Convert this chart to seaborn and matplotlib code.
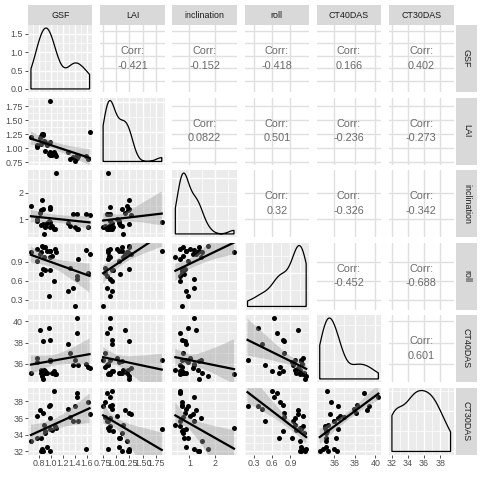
import numpy as np
import pandas as pd
import matplotlib
matplotlib.use("Agg")
import matplotlib.pyplot as plt
import seaborn as sns
from matplotlib.ticker import FixedLocator, AutoMinorLocator

variables = ["GSF", "LAI", "inclination", "roll", "CT40DAS", "CT30DAS"]

gsf = [0.665, 0.763, 0.774, 0.817, 0.828, 0.839, 0.855, 0.871, 0.871, 0.882, 0.898,
       0.909, 0.936, 0.962, 0.979, 0.979, 0.990, 0.990, 1.017, 1.054, 1.071, 1.087,
       1.287, 1.325, 1.379, 1.411, 1.433, 1.433, 1.449, 1.595, 1.627, 1.649]
lai = [1.205, 1.011, 1.058, 1.175, 1.070, 1.220, 1.245, 1.245, 1.234, 1.128, 1.117,
       0.940, 1.058, 0.894, 1.850, 0.883, 0.929, 1.117, 0.871, 0.929, 0.894, 0.854,
       0.929, 0.795, 0.836, 0.760, 0.883, 0.824, 0.854, 0.854, 0.795, 1.280]
inclination = [1.49, 1.02, 0.94, 1.24, 0.78, 1.34, 1.73, 0.82, 1.37, 0.45, 0.73,
               0.70, 0.85, 0.94, 0.88, 1.46, 0.70, 1.37, 0.76, 0.63, 0.63, 2.73,
               0.85, 0.76, 1.18, 0.70, 1.18, 0.63, 0.63, 1.18, 0.70, 1.15]
roll = [1.05, 1.10, 0.92, 1.02, 0.71, 1.05, 1.16, 0.79, 1.14, 0.97, 1.13,
        0.77, 1.07, 0.36, 1.08, 0.97, 0.77, 1.07, 0.99, 0.60, 1.10, 1.05,
        0.43, 0.80, 0.48, 0.19, 0.62, 0.68, 0.94, 1.09, 0.72, 1.02]
ct40 = [35.2, 36.55, 36.15, 39.2, 35.2, 35.4, 34.9, 38.15, 34.6, 35.4, 35.2,
        35.3, 35.2, 39.4, 36.4, 36.4, 38.2, 36.25, 35.2, 35.3, 35.1, 35.1,
        37.9, 37.0, 35.94, 36.4, 40.3, 38.9, 35.94, 36.0, 35.7, 35.6]
ct30 = [33.2, 36.2, 33.6, 37.0, 33.6, 32.1, 32.3, 36.6, 32.0, 35.2, 34.2,
        34.4, 32.5, 37.5, 34.7, 36.0, 37.6, 32.1, 34.6, 39.3, 35.0, 34.8,
        37.1, 36.1, 35.6, 37.5, 38.5, 39.0, 35.6, 32.3, 37.9, 36.5]

corr_labels = ["-0.421", "-0.152", "-0.418", "0.166", "0.402",
               "0.0822", "0.501", "-0.236", "-0.273",
               "0.32", "-0.326", "-0.342",
               "-0.452", "-0.688",
               "0.601"]

ticks = {
    "GSF": [0.8, 1.0, 1.2, 1.4, 1.6],
    "LAI": [0.75, 1.00, 1.25, 1.50, 1.75],
    "inclination": [1, 2],
    "roll": [0.3, 0.6, 0.9],
    "CT40DAS": [36, 38, 40],
    "CT30DAS": [32, 34, 36, 38],
}
tick_labels = {
    "GSF": ["0.8", "1.0", "1.2", "1.4", "1.6"],
    "LAI": ["0.75", "1.00", "1.25", "1.50", "1.75"],
    "inclination": ["1", "2"],
    "roll": ["0.3", "0.6", "0.9"],
    "CT40DAS": ["36", "38", "40"],
    "CT30DAS": ["32", "34", "36", "38"],
}
density_ticks = [0.0, 0.5, 1.0, 1.5]
density_labels = ["0.0", "0.5", "1.0", "1.5"]

df = pd.DataFrame({"GSF": gsf, "LAI": lai, "inclination": inclination,
                   "roll": roll, "CT40DAS": ct40, "CT30DAS": ct30})

plt.rcParams["font.family"] = ["Liberation Sans", "DejaVu Sans"]

W = H = 480
fig = plt.figure(figsize=(4.8, 4.8), dpi=100)

col_left = [28 + i * 72.2 for i in range(6)]
row_top = [25 + j * 72.5 for j in range(6)]
pw, ph = 64.5, 67

TICK_C = "#4D4D4D"
FS = 6.4


def limits(v):
    lo, hi = df[v].min(), df[v].max()
    pad = (hi - lo) * 0.05
    return lo - pad, hi + pad


def panel(i, j):
    x0 = col_left[j]
    y0 = row_top[i]
    return fig.add_axes([x0 / W, 1 - (y0 + ph) / H, pw / W, ph / H])


ci = 0
for i, vy in enumerate(variables):
    for j, vx in enumerate(variables):
        ax = panel(i, j)
        for s in ax.spines.values():
            s.set_visible(False)
        ax.set_xlim(*limits(vx))
        ax.xaxis.set_major_locator(FixedLocator(ticks[vx]))
        ax.xaxis.set_minor_locator(AutoMinorLocator(2))

        if i < j:
            # upper triangle: correlation text
            ax.set_ylim(*limits(vy))
            ax.yaxis.set_major_locator(FixedLocator(ticks[vy]))
            ax.set_facecolor("white")
            ax.grid(True, which="major", color="#E0E0E0", lw=1.0)
            ax.set_axisbelow(True)
            ax.text(0.5, 0.5, "Corr:\n" + corr_labels[ci], transform=ax.transAxes,
                    ha="center", va="center", fontsize=7.8, color="#6A6A6A",
                    linespacing=1.55)
            ci += 1
        elif i == j:
            ax.set_facecolor("#EBEBEB")
            sns.kdeplot(data=df, x=vx, ax=ax, cut=0, fill=True, color="black",
                        bw_adjust=0.9)
            poly = ax.collections[-1]
            poly.set_facecolor("none")
            poly.set_edgecolor("black")
            poly.set_linewidth(0.9)
            poly.set_alpha(1)
            ymax = poly.get_paths()[0].vertices[:, 1].max()
            ax.set_ylim(-0.05 * ymax, 1.05 * ymax)
            ax.set_xlim(*limits(vx))
            if i == 0:
                ax.yaxis.set_major_locator(FixedLocator(density_ticks))
            ax.yaxis.set_minor_locator(AutoMinorLocator(2))
            ax.grid(True, which="major", color="white", lw=1.0)
            ax.grid(True, which="minor", color="white", lw=0.5)
            ax.set_axisbelow(True)
        else:
            ax.set_facecolor("#EBEBEB")
            sns.regplot(data=df, x=vx, y=vy, ax=ax, ci=95, n_boot=2000, seed=3,
                        truncate=True,
                        scatter_kws={"s": 13, "color": "black", "linewidths": 0,
                                     "alpha": 1},
                        line_kws={"color": "black", "lw": 1.6})
            # grey confidence ribbon drawn over the points, like geom_smooth
            for coll in ax.collections[1:]:
                coll.set_alpha(0.4)
                coll.set_facecolor("#999999")
                coll.set_edgecolor("none")
            ax.set_ylim(*limits(vy))
            ax.set_xlim(*limits(vx))
            ax.yaxis.set_major_locator(FixedLocator(ticks[vy]))
            ax.yaxis.set_minor_locator(AutoMinorLocator(2))
            ax.grid(True, which="major", color="white", lw=1.0)
            ax.grid(True, which="minor", color="white", lw=0.5)
            ax.set_axisbelow(True)

        ax.set_xlabel("")
        ax.set_ylabel("")
        ax.tick_params(which="minor", length=0)
        ax.tick_params(which="major", length=2.0, width=0.6, color="#333333",
                       labelsize=FS, labelcolor=TICK_C, pad=1.5)

        if j == 0:
            if i == 0:
                ax.set_yticklabels(density_labels)
            else:
                ax.set_yticklabels(tick_labels[vy])
        else:
            ax.tick_params(axis="y", which="major", left=False, labelleft=False)
        if i == 5:
            ax.set_xticklabels(tick_labels[vx])
        else:
            ax.tick_params(axis="x", which="major", bottom=False, labelbottom=False)

# strips
for j, v in enumerate(variables):
    sax = fig.add_axes([col_left[j] / W, 1 - 25 / H, pw / W, 20 / H])
    sax.set_facecolor("#D9D9D9")
    sax.set_xticks([])
    sax.set_yticks([])
    for s in sax.spines.values():
        s.set_visible(False)
    sax.text(0.5, 0.5, v, ha="center", va="center", fontsize=FS,
             color="#1A1A1A", transform=sax.transAxes)

for i, v in enumerate(variables):
    sax = fig.add_axes([456 / W, 1 - (row_top[i] + ph) / H, 21 / W, ph / H])
    sax.set_facecolor("#D9D9D9")
    sax.set_xticks([])
    sax.set_yticks([])
    for s in sax.spines.values():
        s.set_visible(False)
    sax.text(0.5, 0.5, v, ha="center", va="center", fontsize=FS, rotation=-90,
             color="#1A1A1A", transform=sax.transAxes)

fig.savefig("out.png", dpi=100, facecolor="white")
